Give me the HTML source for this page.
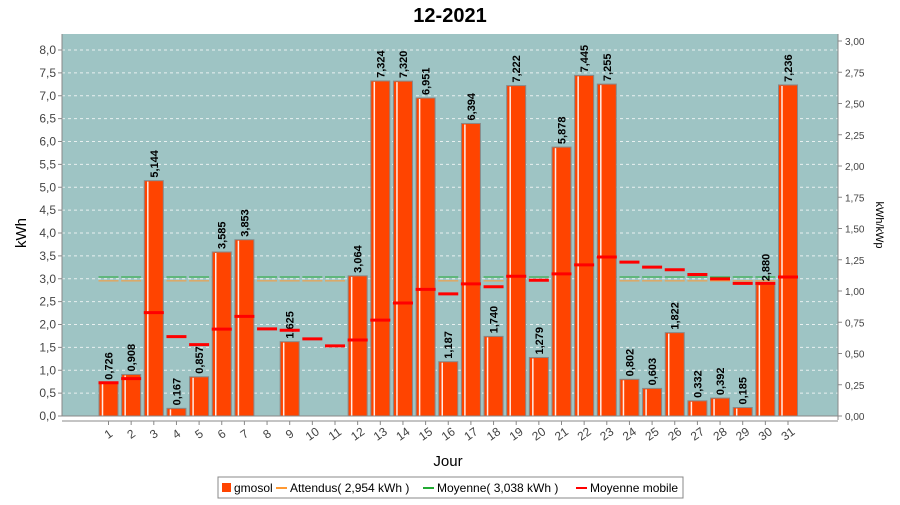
<!DOCTYPE html>
<html><head><meta charset="utf-8"><style>
body{margin:0;background:#fff;font-family:"Liberation Sans",sans-serif}
svg text{font-family:"Liberation Sans",sans-serif}
</style></head><body>
<svg id="c" width="900" height="500" xmlns="http://www.w3.org/2000/svg">
<text x="450" y="22" text-anchor="middle" font-size="20" font-weight="bold">12-2021</text>
<rect x="62" y="34" width="776" height="382" fill="#9ec4c4"/>
<g id="grid"></g><g id="avg"></g><g id="bars"></g><g id="mm"></g><g id="axes"></g>
<text x="26" y="233" transform="rotate(-90 26 233)" text-anchor="middle" font-size="15">kWh</text>
<text x="876" y="225" transform="rotate(90 876 225)" text-anchor="middle" font-size="11">kWh/kWp</text>
<text x="448" y="466" text-anchor="middle" font-size="15">Jour</text>
<g>
<rect x="218" y="477" width="465" height="21" fill="#fff" stroke="#888"/>
<rect x="222" y="483" width="9" height="9" fill="#ff4400"/>
<text x="234" y="492" font-size="12">gmosol</text>
<line x1="276" y1="488" x2="287" y2="488" stroke="#ff9933" stroke-width="2"/>
<text x="290" y="492" font-size="12">Attendus( 2,954 kWh )</text>
<line x1="423" y1="488" x2="434" y2="488" stroke="#22aa33" stroke-width="2"/>
<text x="437" y="492" font-size="12">Moyenne( 3,038 kWh )</text>
<line x1="576" y1="488" x2="587" y2="488" stroke="#ff0000" stroke-width="2"/>
<text x="590" y="492" font-size="12">Moyenne mobile</text>
</g>
</svg>
<script>
const days=[1,2,3,4,5,6,7,8,9,10,11,12,13,14,15,16,17,18,19,20,21,22,23,24,25,26,27,28,29,30,31];
const values=[0.726,0.908,5.144,0.167,0.857,3.585,3.853,0,1.625,0,0,3.064,7.324,7.320,6.951,1.187,6.394,1.740,7.222,1.279,5.878,7.445,7.255,0.802,0.603,1.822,0.332,0.392,0.185,2.880,7.236];
const movingAvg=[0.726,0.817,2.259,1.736,1.560,1.898,2.177,1.905,1.874,1.687,1.533,1.661,2.096,2.470,2.768,2.669,2.889,2.825,3.056,2.967,3.106,3.303,3.475,3.364,3.253,3.198,3.092,2.996,2.899,2.898,3.038];
const attendus=2.954, moyenne=3.038;
const yTicks=[0,0.5,1,1.5,2,2.5,3,3.5,4,4.5,5,5.5,6,6.5,7,7.5,8];
const y2Ticks=[0,0.25,0.5,0.75,1,1.25,1.5,1.75,2,2.25,2.5,2.75,3];
const NS="http://www.w3.org/2000/svg";
const y=v=>416-v*45.75, y2=v=>416-v*125, x=i=>108.5+i*22.65;
function mk(p,t,a){const e=document.createElementNS(NS,t);for(const k in a)e.setAttribute(k,a[k]);document.getElementById(p).appendChild(e);return e;}
const fmt=(v,d)=>v.toFixed(d).replace('.',',');
yTicks.forEach(t=>{
 if(t>0){const g=mk('grid','line',{x1:62,x2:838,y1:y(t),y2:y(t),stroke:'#e8f0f0','stroke-dasharray':'3,3','stroke-width':1});
 }
 const l=mk('axes','line',{x1:58,x2:62,y1:y(t),y2:y(t),stroke:'#888'});
 const tx=mk('axes','text',{x:56,y:y(t)+4,'text-anchor':'end','font-size':12,fill:'#444'});tx.textContent=fmt(t,1);
 
});
y2Ticks.forEach(t=>{
 mk('axes','line',{x1:838,x2:842,y1:y2(t),y2:y2(t),stroke:'#888'});
 const tx=mk('axes','text',{x:845,y:y2(t)+4,'font-size':10,fill:'#444'});tx.textContent=fmt(t,2);
 
});
mk('axes','line',{x1:62,x2:62,y1:34,y2:416,stroke:'#888'});
mk('axes','line',{x1:838,x2:838,y1:34,y2:420,stroke:'#888'});
mk('axes','line',{x1:62,x2:838,y1:416,y2:416,stroke:'#888'});
mk('axes','line',{x1:62,x2:838,y1:421,y2:421,stroke:'#888'});
days.forEach((d,i)=>{
 const cx=x(i);
 mk('axes','line',{x1:cx,x2:cx,y1:421,y2:425,stroke:'#888'});
 const tl=mk('axes','text',{x:cx,y:438,'text-anchor':'middle','font-size':12,fill:'#444',transform:`rotate(-35 ${cx} 434)`});tl.textContent=d;
 
 const a=mk('avg','line',{x1:cx-10,x2:cx+10,y1:y(attendus),y2:y(attendus),stroke:'#ff9933','stroke-width':1});
 
 const m=mk('avg','line',{x1:cx-10,x2:cx+10,y1:y(moyenne),y2:y(moyenne),stroke:'#22aa33','stroke-width':1});
 
 const v=values[i];
 if(v>0){
  const b=mk('bars','rect',{x:cx-9.5,y:y(v),width:19,height:416-y(v),fill:'#ff4400',stroke:'#888','stroke-width':1});
  
  mk('bars','line',{x1:cx-6,x2:cx-6,y1:y(v)+1,y2:416,stroke:'#fff','stroke-width':1.5,opacity:0.9});
  const lb=mk('bars','text',{x:cx+4,y:y(v)-3,'font-size':11,'font-weight':'bold','font-family':'Liberation Serif',transform:`rotate(-90 ${cx+4} ${y(v)-3})`});
  lb.textContent=fmt(v,3);
  
 }
 const mm=mk('mm','line',{x1:cx-10,x2:cx+10,y1:y(movingAvg[i]),y2:y(movingAvg[i]),stroke:'#ff0000','stroke-width':3});
 
});
</script>
</body></html>
